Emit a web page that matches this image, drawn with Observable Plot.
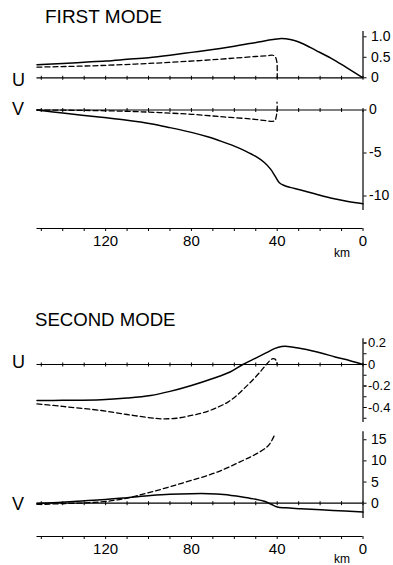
<!DOCTYPE html>
<html>
<head>
<meta charset="utf-8">
<script src="https://cdn.jsdelivr.net/npm/d3@7"></script>
<script src="https://cdn.jsdelivr.net/npm/@observablehq/plot@0.6"></script>
<style>
html, body { margin: 0; padding: 0; background: #fff; }
#chart { position: relative; width: 393px; height: 565px; overflow: hidden; font-family: "Liberation Sans", Arial, sans-serif; color: #000; }
#chart svg { position: absolute; left: 0; background: transparent; overflow: visible; }
.lbl { position: absolute; line-height: 1; white-space: nowrap; color: #000; }
</style>
</head>
<body>
<div id="chart"></div>
<script>
// ---------- data (km offshore, value) ----------
const kmTicks = [0, 10, 20, 30, 40, 50, 60, 70, 80, 90, 100, 110, 120, 130, 140, 150];
const kmLabels = [120, 80, 40, 0];

const u1Ticks = [1.0, 0.5, 0];
const v1Ticks = [0, -5, -10];
const u2MinorTicks = [0.2, 0.1, 0, -0.1, -0.2, -0.3, -0.4, -0.5];
const u2Ticks = [0.2, 0, -0.2, -0.4];
const v2Ticks = [15, 10, 5, 0];

const u1Extent = [0, 1.13];
const v1Extent = [-11.7, 0];
const u2Extent = [-0.54, 0.24];
const v2Extent = [-3.6, 16.9];

const u1Solid = [[152,0.32],[140,0.35],[130,0.38],[120,0.41],[110,0.45],[100,0.49],[90,0.55],[80,0.62],[70,0.69],[60,0.77],[52,0.84],[46,0.90],[42,0.935],[39,0.955],[36,0.95],[32,0.91],[28,0.83],[22,0.67],[15,0.48],[8,0.26],[0,0]];
const u1Dashed = [[152,0.26],[135,0.28],[122,0.30],[100,0.35],[76,0.42],[60,0.48],[50,0.52],[44.5,0.54],[42,0.55],[40.8,0.5],[40.2,0.4],[40,0.25],[40,0]];

const v1Solid = [[152,0],[140,-0.35],[122,-0.85],[110,-1.2],[99,-1.6],[90,-2.05],[80,-2.6],[72,-3.15],[66,-3.65],[60,-4.2],[55,-4.75],[50,-5.4],[46,-6.1],[43,-6.9],[40.5,-7.9],[39,-8.45],[37,-8.75],[34,-9.0],[29,-9.3],[21,-9.85],[14,-10.3],[7,-10.65],[0,-10.9]];
const v1Dashed = [[152,0],[130,-0.05],[110,-0.15],[95,-0.3],[80,-0.5],[65,-0.8],[52,-1.05],[45,-1.25],[42.5,-1.33],[41,-1.2],[40.5,-0.8],[40.1,-0.2],[40,0.4],[40.1,0.9]];

const u2Solid = [[152,-0.335],[140,-0.333],[122,-0.328],[110,-0.312],[99,-0.288],[90,-0.25],[80,-0.195],[70,-0.13],[62,-0.07],[56,0.0],[50,0.06],[45,0.11],[41,0.15],[38,0.167],[35,0.168],[29,0.148],[20,0.11],[13,0.07],[6,0.035],[0,0]];
const u2Dashed = [[152,-0.366],[140,-0.39],[122,-0.428],[110,-0.465],[99,-0.496],[94,-0.505],[87,-0.5],[80,-0.474],[74,-0.445],[68,-0.40],[63,-0.35],[59,-0.29],[55,-0.215],[51,-0.135],[48,-0.07],[45.5,-0.01],[43.5,0.035],[42,0.055],[41,0.05],[40.4,0.03],[40,0]];

const v2Solid = [[152,-0.1],[135,0.4],[122,0.8],[110,1.3],[99,1.8],[90,2.1],[80,2.25],[72,2.25],[65,2.05],[56,1.45],[50,0.95],[46,0.45],[43,-0.2],[40,-0.9],[36,-1.1],[29,-1.3],[14,-1.7],[0,-2.1]];
const v2Dashed = [[152,-0.3],[140,-0.1],[122,0.3],[112,1.0],[106,1.7],[99,2.6],[90,3.9],[80,5.4],[68,7.35],[56,10.1],[50,11.6],[45,13.2],[43,14.4],[41,16.4]];

// ---------- layout ----------
const W = 393, ML = 36.5, MR = 30.5;
const chart = document.getElementById("chart");
const vbar = { draw(ctx, size) { const h = Math.sqrt(size / Math.PI); ctx.moveTo(0, -h); ctx.lineTo(0, h); } };
const fmt1 = d => d === 0 ? "0" : d.toFixed(1);
const fmt0 = d => String(d);

function panel({ top, height, zero, unit, extent, solid, dashed, minorTicks, ticks, fmt, fontSize = 14, pad = 5 }) {
  const lo = extent[0], hi = extent[1];
  const marks = [
    Plot.ruleY([0], { stroke: "#000", strokeWidth: 1.2 }),
    Plot.dot(kmTicks, { x: d => d, y: () => 0, symbol: vbar, r: 2, stroke: "#000", fill: "none", strokeWidth: 1 }),
    Plot.ruleX([0], { y1: () => lo, y2: () => hi, stroke: "#000", strokeWidth: 1.2 }),
    Plot.line(solid, { x: d => d[0], y: d => d[1], stroke: "#000", strokeWidth: 1.5, curve: "catmull-rom" }),
    Plot.line(dashed, { x: d => d[0], y: d => d[1], stroke: "#000", strokeWidth: 1.3, strokeDasharray: "5,3", curve: "catmull-rom" })
  ];
  if (minorTicks) marks.push(Plot.axisY({ anchor: "right", ticks: minorTicks, tickSize: 3, tickFormat: () => "", label: null }));
  marks.push(Plot.axisY({ anchor: "right", ticks, tickSize: 3, tickPadding: pad, tickFormat: fmt, label: null }));
  const svg = Plot.plot({
    width: W, height, marginLeft: ML, marginRight: MR, marginTop: 0, marginBottom: 0,
    x: { domain: [152, 0], axis: null },
    y: { domain: [lo, hi], range: [zero - top - lo * unit, zero - top - hi * unit] },
    style: { fontFamily: "'Liberation Sans', Arial, sans-serif", fontSize: fontSize + "px", color: "#000", background: "transparent", overflow: "visible" },
    marks
  });
  svg.style.top = top + "px";
  chart.appendChild(svg);
}

function xAxis(lineY) {
  const top = lineY - 5;
  const svg = Plot.plot({
    width: W, height: 30, marginLeft: ML, marginRight: MR, marginTop: 0, marginBottom: 25,
    x: { domain: [152, 0], axis: null },
    y: { domain: [0, 1], axis: null },
    style: { fontFamily: "'Liberation Sans', Arial, sans-serif", fontSize: "15px", color: "#000", background: "transparent", overflow: "visible" },
    marks: [
      Plot.ruleY([0], { stroke: "#000", strokeWidth: 1.2 }),
      Plot.axisX({ anchor: "bottom", ticks: kmTicks, tickSize: 3, tickFormat: () => "", label: null }),
      Plot.axisX({ anchor: "bottom", ticks: kmLabels, tickSize: 0, tickPadding: 7, tickFormat: fmt0, label: null })
    ]
  });
  svg.style.top = top + "px";
  chart.appendChild(svg);
}

panel({ top: 25, height: 65, zero: 77.3, unit: 41, extent: u1Extent, solid: u1Solid, dashed: u1Dashed, ticks: u1Ticks, fmt: fmt1 });
panel({ top: 95, height: 125, zero: 109.5, unit: 8.6, extent: v1Extent, solid: v1Solid, dashed: v1Dashed, ticks: v1Ticks, fmt: fmt0, pad: 3 });
xAxis(227.7);
panel({ top: 335, height: 90, zero: 364, unit: 107.5, extent: u2Extent, solid: u2Solid, dashed: u2Dashed, minorTicks: u2MinorTicks, ticks: u2Ticks, fmt: fmt1, fontSize: 13, pad: 2 });
panel({ top: 428, height: 95, zero: 502.7, unit: 4.23, extent: v2Extent, solid: v2Solid, dashed: v2Dashed, ticks: v2Ticks, fmt: fmt0 });
xAxis(536);

function label(text, left, baseline, size, extra) {
  const d = document.createElement("div");
  d.className = "lbl";
  d.textContent = text;
  d.style.left = left + "px";
  d.style.top = (baseline - 0.8465 * size) + "px";
  d.style.fontSize = size + "px";
  if (extra) Object.assign(d.style, extra);
  chart.appendChild(d);
}
label("FIRST MODE", 45, 23.3, 19);
label("SECOND MODE", 35, 326.7, 18.6);
label("U", 12, 86, 18);
label("V", 12, 115, 18);
label("U", 12, 368.3, 18);
label("V", 12, 510, 18);
label("km", 334, 257, 12);
label("km", 334, 563, 12);
</script>
</body>
</html>
